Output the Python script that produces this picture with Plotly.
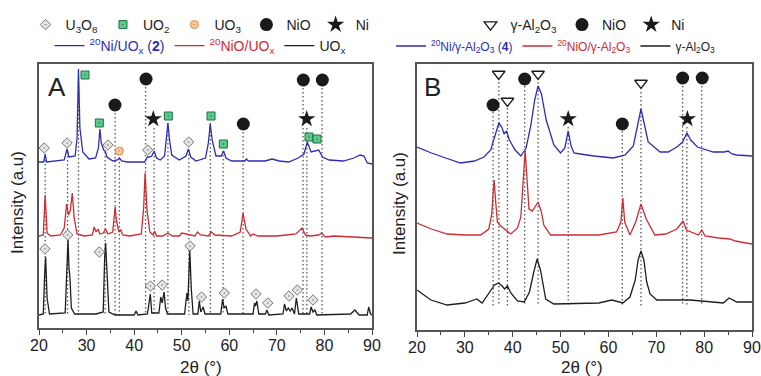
import plotly.graph_objects as go

# ---------------- Panel A data (2θ, intensity a.u.) ----------------
A_blue_x = [20, 21.0, 21.3, 21.6, 25.3, 25.9, 26.3, 27.6, 28.0, 28.3, 28.6, 29.2, 30.5, 31.9, 32.5, 32.8, 33.1, 33.6,
            33.9, 34.3, 35.5, 36.5, 36.9, 37.4, 38.5, 42.2, 42.8, 43.2, 43.7, 44.2, 44.7, 45.5, 46.4, 46.8, 47.1, 47.4,
            47.9, 49.5, 50.9, 51.4, 51.9, 53, 55.0, 55.6, 56.0, 56.4, 57.2, 58.3, 58.8, 59.3, 60.5, 63.3, 63.6, 64,
            67.5, 69, 70.5, 72.5, 73.5, 74.5, 75.7, 76.4, 77.2, 78.2, 78.8, 79.6, 81, 84, 86.2, 87.5, 88.3, 89, 90]
A_blue_y = [166, 166, 174, 166, 168, 179, 171, 172, 190, 259, 200, 176, 169, 170, 180, 199, 185, 178,
            177, 171, 167, 168, 170, 167, 166, 166, 171, 171, 172, 177, 170, 168, 172, 190, 205, 190,
            173, 168, 172, 179, 171, 167, 170, 185, 204, 188, 172, 172, 177, 170, 167, 167, 169, 167,
            167, 169, 167, 166, 168, 170, 174, 186, 176, 177, 178, 171, 168, 167, 170, 173, 172, 165, 164]

A_red_x = [20, 20.9, 21.3, 21.7, 22.5, 24.5, 25.3, 25.8, 26.2, 26.6, 27.0, 27.4, 28.0, 29.5, 31.2, 31.6, 32.0, 32.4,
           32.8, 33.5, 34.0, 34.5, 35.5, 36.0, 36.3, 36.8, 37.2, 37.6, 39, 41.5, 42.0, 42.3, 42.7, 43.3, 44.0, 44.3,
           44.7, 46, 47.1, 48, 49.5, 50, 52.8, 53.3, 54, 55.6, 56.2, 57, 60.5, 62.3, 62.9, 63.5, 64.5, 65, 66, 70,
           72, 74, 75.3, 76, 77, 78.8, 79.4, 80.2, 82, 86, 90]
A_red_y = [92, 93, 133, 95, 92, 93, 100, 124, 113, 118, 135, 110, 94, 92, 93, 101, 96, 99,
           94, 95, 99, 94, 96, 121, 107, 96, 98, 93, 92, 94, 120, 155, 118, 96, 93, 97,
           92, 92, 95, 92, 92, 95, 92, 96, 93, 92, 96, 93, 92, 96, 115, 99, 92, 94, 92, 92,
           93, 94, 100, 93, 92, 93, 95, 91, 92, 91, 90]

A_black_x = [20, 20.9, 21.2, 21.4, 21.7, 22.2, 25.5, 25.8, 26.1, 26.3, 26.5, 26.8, 27.5, 32, 33.5, 33.8, 34.0, 34.3,
             34.7, 36, 40.0, 40.4, 40.8, 42.8, 43.2, 43.4, 43.7, 45.2, 45.6, 45.9, 46.3, 46.6, 47.0, 50.6, 51.1, 51.3,
             51.7, 52.0, 52.4, 53.4, 53.7, 54.0, 54.5, 54.9, 58.2, 58.6, 58.9, 59.3, 59.7, 61.5, 65.0, 65.3, 65.5,
             65.8, 66.2, 67.6, 67.9, 68.3, 71.3, 71.6, 72.0, 72.4, 72.8, 73.2, 73.7, 74.1, 74.6, 76.9, 77.2, 77.6,
             78.0, 78.4, 85.5, 86.4, 87.3, 89.0, 89.3, 89.7, 90]
A_black_y = [13, 14, 55, 71, 30, 14, 15, 45, 88, 60, 51, 20, 14, 14, 16, 70, 85, 55,
             16, 13, 13, 17, 13, 14, 25, 34, 15, 15, 31, 25, 36, 20, 14, 14, 35, 27,
             78, 40, 14, 14, 27, 16, 21, 14, 14, 29, 20, 22, 14, 14, 14, 25, 22,
             27, 14, 14, 18, 13, 14, 24, 17, 20, 17, 20, 14, 30, 14, 14, 21, 16,
             18, 13, 14, 18, 13, 13, 21, 14, 13]

A_u3o8_x = [21.1, 25.9, 34.5, 42.85, 51.47, 21.26, 26.03, 32.68, 43.44, 45.9, 51.74, 54.16, 58.95, 65.62, 68.08,
            72.55, 74.3, 77.6]
A_u3o8_y = [180, 185, 183, 178, 186, 79, 93, 76, 42, 43, 82, 31, 35, 34, 25, 32, 38, 28]
A_uo2_x = [29.67, 32.68, 47.18, 56.16, 58.75, 76.76, 78.44]
A_uo2_y = [253, 205, 212, 212, 184, 191, 189]
A_uo3_x = [36.88]
A_uo3_y = [177]
A_nio_x = [35.97, 42.5, 62.95, 75.56, 79.56]
A_nio_y = [223, 249, 204, 248, 248]
A_ni_x = [44.03, 76.27]
A_ni_y = [209, 209]

A_ref_x = [21.3, 26.0, 28.3, 33.9, 36.0, 36.9, 42.4, 44.2, 47.1, 51.5, 56.0, 58.7, 62.9, 75.5, 76.3, 79.5]
A_ref_top = [172, 176, 250, 176, 215, 170, 241, 200, 205, 178, 205, 177, 196, 240, 200, 240]
A_ref_bottom = 13

# ---------------- Panel B data ----------------
B_blue_x = [20, 23, 26, 29.1, 32, 34, 35.4, 36.3, 37.1, 37.7, 38.2, 38.7, 39.3, 40.5, 41.7, 42.8, 43.8, 44.6, 45.3,
            46.0, 47.0, 48.6, 50.0, 50.9, 51.6, 52.2, 52.8, 54.1, 57, 61.0, 63.5, 65.2, 66.1, 66.8, 67.5, 68.3, 70.8,
            72.5, 74.3, 75.5, 76.4, 77.2, 78.6, 81.9, 84.2, 85.0, 85.8, 86.8, 90]
B_blue_y = [183, 177, 172, 167, 169, 173, 180, 195, 207, 203, 196, 199, 190, 180, 174, 182, 205, 230, 244,
            236, 210, 185, 177, 182, 199, 184, 177, 176, 174, 172, 175, 184, 205, 221, 206, 188, 178,
            178, 183, 188, 197, 190, 183, 178, 178, 179, 176, 175, 174]

B_red_x = [20, 23, 26.3, 30, 33.3, 35.0, 35.6, 36.1, 36.5, 36.8, 37.5, 38.5, 39.6, 41.0, 41.7, 42.2, 42.6, 43.0, 43.4,
           44.1, 45.3, 46.0, 46.5, 47.9, 51, 55.2, 58, 61.7, 62.6, 63.0, 63.4, 64.5, 65.7, 66.8, 67.9, 69.7, 72, 74.3,
           75.6, 76.3, 78.8, 79.5, 80.2, 83, 85.4, 86.5, 90]
B_red_y = [107, 101, 96, 95, 95, 101, 115, 150, 125, 108, 104, 100, 96, 102, 113, 150, 179, 150, 121,
           119, 128, 118, 105, 95, 95, 95, 95, 98, 108, 132, 108, 95, 108, 126, 111, 95, 96, 101,
           109, 100, 95, 100, 94, 92, 91, 89, 86]

B_black_x = [20, 22.9, 26.3, 30, 31.9, 32.5, 33.6, 35, 36.2, 37.0, 37.8, 38.3, 38.9, 39.6, 41.0, 42.4, 43.5, 44.4,
             45.1, 45.8, 46.9, 48.6, 54, 58, 60.7, 63.0, 64.5, 65.6, 66.2, 66.8, 67.4, 68.0, 68.7, 70.1, 77.1, 84.0,
             85.2, 86.8, 90]
B_black_y = [40, 30, 25, 27, 30, 31, 27, 37, 45, 47, 44, 41, 44, 37, 29, 28, 38, 58,
             71, 60, 31, 26, 27, 27, 30, 27, 33, 50, 70, 79, 70, 48, 36, 30, 30, 27,
             32, 28, 28]

B_gal_x = [37.07, 38.9, 45.3, 66.8]
B_gal_y = [256, 229, 256, 247]
B_nio_x = [35.9, 42.5, 62.9, 75.5, 79.6]
B_nio_y = [225, 251, 206, 252, 252]
B_ni_x = [51.6, 76.5]
B_ni_y = [211, 211]

B_ref_x = [35.9, 37.1, 38.9, 42.5, 45.3, 51.6, 62.9, 66.8, 75.5, 76.4, 79.5]
B_ref_top = [218, 248, 222, 244, 248, 203, 199, 238, 244, 203, 244]
B_ref_bottom = 24

# x-axis ticks
tick_vals = [20, 30, 40, 50, 60, 70, 80, 90]

BLUE = "#2e2eb0"
RED = "#cc2c34"
BLACK = "#1e1e1e"
DOT = "#555555"
FONT = "Liberation Sans, Arial, sans-serif"

fig = go.Figure()


def dotted(xs, tops, bottom):
    X, Y = [], []
    for x, t in zip(xs, tops):
        X += [x, x, None]
        Y += [t, bottom, None]
    return X, Y


# reference dotted lines
for xs, tops, bot, ax in [(A_ref_x, A_ref_top, A_ref_bottom, ("x", "y")),
                          (B_ref_x, B_ref_top, B_ref_bottom, ("x2", "y2"))]:
    X, Y = dotted(xs, tops, bot)
    fig.add_trace(go.Scatter(x=X, y=Y, mode="lines", xaxis=ax[0], yaxis=ax[1], showlegend=False,
                             hoverinfo="skip", line=dict(color=DOT, width=1.3, dash="1.5px,2.5px")))

# curves
curves = [
    (A_blue_x, A_blue_y, BLUE, "x", "y", "legend2",
     "<span style='color:%s'><sup>20</sup>Ni/UO<sub>x</sub> (<b>2</b>)</span>" % BLUE),
    (A_red_x, A_red_y, RED, "x", "y", "legend2",
     "<span style='color:%s'><sup>20</sup>NiO/UO<sub>x</sub></span>" % RED),
    (A_black_x, A_black_y, BLACK, "x", "y", "legend2", "UO<sub>x</sub>"),
    (B_blue_x, B_blue_y, BLUE, "x2", "y2", "legend4",
     "<span style='color:%s'><sup>20</sup>Ni/γ-Al<sub>2</sub>O<sub>3</sub> (<b>4</b>)</span>" % BLUE),
    (B_red_x, B_red_y, RED, "x2", "y2", "legend4",
     "<span style='color:%s'><sup>20</sup>NiO/γ-Al<sub>2</sub>O<sub>3</sub></span>" % RED),
    (B_black_x, B_black_y, BLACK, "x2", "y2", "legend4", "γ-Al<sub>2</sub>O<sub>3</sub>"),
]
for xs, ys, col, xa, ya, lg, name in curves:
    fig.add_trace(go.Scatter(x=xs, y=ys, mode="lines", xaxis=xa, yaxis=ya, name=name, legend=lg,
                             line=dict(color=col, width=1.3)))

# phase markers
markers = [
    (A_u3o8_x, A_u3o8_y, "x", "y", "legend", "U<sub>3</sub>O<sub>8</sub>",
     dict(symbol="diamond-dot", size=8, color="#e4e4e4", line=dict(color="#777777", width=1))),
    (A_uo2_x, A_uo2_y, "x", "y", "legend", "UO<sub>2</sub>",
     dict(symbol="square-dot", size=8, color="#5cca8c", line=dict(color="#1d6e3e", width=1))),
    (A_uo3_x, A_uo3_y, "x", "y", "legend", "UO<sub>3</sub>",
     dict(symbol="circle-dot", size=8, color="#f7c9a0", line=dict(color="#e0883a", width=1))),
    (A_nio_x, A_nio_y, "x", "y", "legend", "NiO",
     dict(symbol="circle", size=13, color="#1a1a1a")),
    (A_ni_x, A_ni_y, "x", "y", "legend", "Ni",
     dict(symbol="star", size=13, color="#1a1a1a")),
    (B_gal_x, B_gal_y, "x2", "y2", "legend3", "γ-Al<sub>2</sub>O<sub>3</sub>",
     dict(symbol="triangle-down-open", size=11, color="#1a1a1a", line=dict(width=1.3))),
    (B_nio_x, B_nio_y, "x2", "y2", "legend3", "NiO",
     dict(symbol="circle", size=13, color="#1a1a1a")),
    (B_ni_x, B_ni_y, "x2", "y2", "legend3", "Ni",
     dict(symbol="star", size=13, color="#1a1a1a")),
]
for xs, ys, xa, ya, lg, name, mk in markers:
    fig.add_trace(go.Scatter(x=xs, y=ys, mode="markers", xaxis=xa, yaxis=ya, name=name, legend=lg,
                             marker=mk))

W, H = 761, 376
xdomA = [39 / W, 372 / W]
xdomB = [417 / W, 752 / W]
ydomA = [(H - 328) / H, (H - 64) / H]
ydomB = [(H - 330) / H, (H - 64) / H]

xcommon = dict(range=[20, 90], tickvals=tick_vals, ticks="outside", ticklen=5, tickcolor="#444",
               showline=True, linecolor="#555", linewidth=1.5, mirror=True, showgrid=False, zeroline=False,
               automargin=False, ticklabelstandoff=-3,
               tickfont=dict(family=FONT, size=16, color="#222"),
               minor=dict(dtick=5, tick0=20, ticks="outside", ticklen=3, tickcolor="#444"))
ycommon = dict(showticklabels=False, ticks="", showline=True, linecolor="#555", linewidth=1.5, mirror=True,
               showgrid=False, zeroline=False, automargin=False)


def leg(x, y, size=14):
    return dict(x=x, y=y, orientation="h", xanchor="center", yanchor="middle", bgcolor="rgba(0,0,0,0)",
                font=dict(family=FONT, size=size, color="#222"), itemwidth=30, tracegroupgap=0)


def ann(text, x, y, size=17, angle=0):
    return dict(text=text, x=x / W, y=(H - y) / H, xref="paper", yref="paper", xanchor="center",
                yanchor="middle", textangle=angle, showarrow=False,
                font=dict(family=FONT, size=size, color="#222"))


fig.update_layout(
    width=W, height=H, margin=dict(l=0, r=0, t=0, b=0, autoexpand=False),
    paper_bgcolor="white", plot_bgcolor="white",
    font=dict(family=FONT, color="#222"),
    xaxis=dict(domain=xdomA, anchor="y", **xcommon),
    yaxis=dict(domain=ydomA, anchor="x", range=[0, 264], **ycommon),
    xaxis2=dict(domain=xdomB, anchor="y2", **xcommon),
    yaxis2=dict(domain=ydomB, anchor="x2", range=[0, 266], **ycommon),
    legend=leg(200 / W, (H - 25) / H),
    legend2=leg(200 / W, (H - 46) / H),
    legend3=leg(580 / W, (H - 25) / H),
    legend4=leg(556 / W, (H - 46) / H, 12),
    annotations=[
        ann("A", 57, 87, 26),
        ann("B", 432, 87, 26),
        ann("Intensity (a.u)", 17, 203, 17, -90),
        ann("Intensity (a.u)", 399, 203, 17, -90),
        ann("2θ (°)", 201, 367, 17),
        ann("2θ (°)", 582, 367, 17),
    ],
)

fig.write_html("out.html", config={"displayModeBar": False},
               post_script="document.body.style.margin='0';document.body.style.overflow='hidden';")
